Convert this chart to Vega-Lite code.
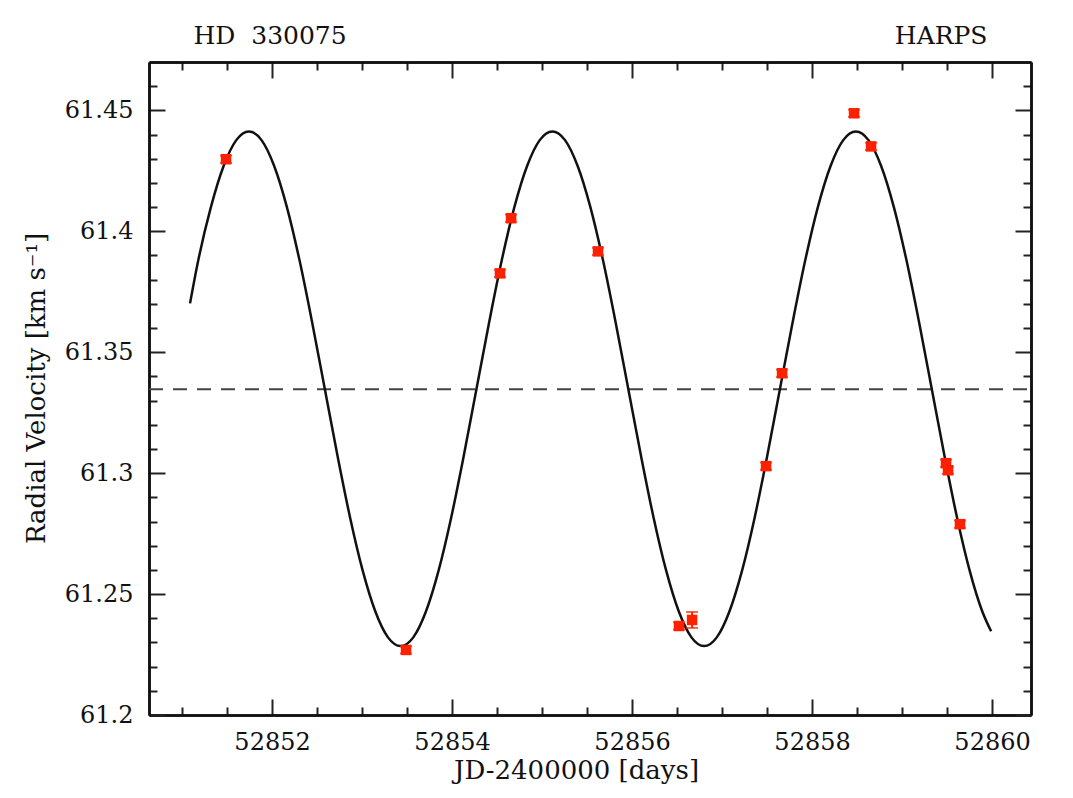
{
  "$schema": "https://vega.github.io/schema/vega-lite/v6.json",
  "width": 882,
  "height": 653,
  "autosize": {"type": "none"},
  "padding": {"left": 149, "top": 62, "right": 42, "bottom": 83},
  "background": "white",
  "config": {
    "view": {"stroke": null},
    "axis": {
      "grid": false,
      "domainColor": "#111",
      "domainWidth": 2.5,
      "tickColor": "#222",
      "tickWidth": 2,
      "labelFont": "DejaVu Serif",
      "labelFontSize": 24,
      "labelColor": "#111",
      "titleFont": "DejaVu Serif",
      "titleFontSize": 26,
      "titleFontWeight": "normal",
      "titleColor": "#111",
      "labelFlush": false,
      "labelOverlap": false
    }
  },
  "datasets": {
    "curve": [
      {"t": 52851.089, "v": 61.3702},
      {"t": 52851.181, "v": 61.3881},
      {"t": 52851.3215, "v": 61.4101},
      {"t": 52851.462, "v": 61.4270},
      {"t": 52851.6025, "v": 61.4377},
      {"t": 52851.743, "v": 61.4413},
      {"t": 52851.8835, "v": 61.4377},
      {"t": 52852.024, "v": 61.4270},
      {"t": 52852.1645, "v": 61.4101},
      {"t": 52852.305, "v": 61.3881},
      {"t": 52852.4455, "v": 61.3624},
      {"t": 52852.586, "v": 61.3349},
      {"t": 52852.7265, "v": 61.3074},
      {"t": 52852.867, "v": 61.2817},
      {"t": 52853.0075, "v": 61.2597},
      {"t": 52853.148, "v": 61.2428},
      {"t": 52853.2885, "v": 61.2321},
      {"t": 52853.429, "v": 61.2285},
      {"t": 52853.5695, "v": 61.2321},
      {"t": 52853.71, "v": 61.2428},
      {"t": 52853.8505, "v": 61.2597},
      {"t": 52853.991, "v": 61.2817},
      {"t": 52854.1315, "v": 61.3074},
      {"t": 52854.272, "v": 61.3349},
      {"t": 52854.4125, "v": 61.3624},
      {"t": 52854.553, "v": 61.3881},
      {"t": 52854.6935, "v": 61.4101},
      {"t": 52854.834, "v": 61.4270},
      {"t": 52854.9745, "v": 61.4377},
      {"t": 52855.115, "v": 61.4413},
      {"t": 52855.2555, "v": 61.4377},
      {"t": 52855.396, "v": 61.4270},
      {"t": 52855.5365, "v": 61.4101},
      {"t": 52855.677, "v": 61.3881},
      {"t": 52855.8175, "v": 61.3624},
      {"t": 52855.958, "v": 61.3349},
      {"t": 52856.0985, "v": 61.3074},
      {"t": 52856.239, "v": 61.2817},
      {"t": 52856.3795, "v": 61.2597},
      {"t": 52856.52, "v": 61.2428},
      {"t": 52856.6605, "v": 61.2321},
      {"t": 52856.801, "v": 61.2285},
      {"t": 52856.9415, "v": 61.2321},
      {"t": 52857.082, "v": 61.2428},
      {"t": 52857.2225, "v": 61.2597},
      {"t": 52857.363, "v": 61.2817},
      {"t": 52857.5035, "v": 61.3074},
      {"t": 52857.644, "v": 61.3349},
      {"t": 52857.7845, "v": 61.3624},
      {"t": 52857.925, "v": 61.3881},
      {"t": 52858.0655, "v": 61.4101},
      {"t": 52858.206, "v": 61.4270},
      {"t": 52858.3465, "v": 61.4377},
      {"t": 52858.487, "v": 61.4413},
      {"t": 52858.6275, "v": 61.4377},
      {"t": 52858.768, "v": 61.4270},
      {"t": 52858.9085, "v": 61.4101},
      {"t": 52859.049, "v": 61.3881},
      {"t": 52859.1895, "v": 61.3624},
      {"t": 52859.33, "v": 61.3349},
      {"t": 52859.4705, "v": 61.3074},
      {"t": 52859.611, "v": 61.2817},
      {"t": 52859.7515, "v": 61.2597},
      {"t": 52859.892, "v": 61.2428},
      {"t": 52859.99, "v": 61.2346}
    ],
    "obs": [
      {"t": 52851.489, "rv": 61.4298, "err": 0.0015},
      {"t": 52853.489, "rv": 61.2269, "err": 0.0015},
      {"t": 52854.533, "rv": 61.3826, "err": 0.0015},
      {"t": 52854.656, "rv": 61.4054, "err": 0.0015},
      {"t": 52855.622, "rv": 61.3917, "err": 0.0015},
      {"t": 52856.522, "rv": 61.2368, "err": 0.0015},
      {"t": 52856.667, "rv": 61.2393, "err": 0.0033},
      {"t": 52857.489, "rv": 61.3029, "err": 0.0015},
      {"t": 52857.667, "rv": 61.3413, "err": 0.0015},
      {"t": 52858.467, "rv": 61.4488, "err": 0.0015},
      {"t": 52858.656, "rv": 61.4351, "err": 0.0015},
      {"t": 52859.489, "rv": 61.3041, "err": 0.0015},
      {"t": 52859.511, "rv": 61.3012, "err": 0.0015},
      {"t": 52859.644, "rv": 61.2789, "err": 0.0015}
    ],
    "mean": [
      {"t": 52850.633, "v": 61.3347},
      {"t": 52860.433, "v": 61.3347}
    ]
  },
  "resolve": {"axis": {"x": "independent", "y": "independent"}},
  "layer": [
    {
      "data": {"name": "mean"},
      "mark": {"type": "line", "color": "#444", "strokeWidth": 2, "strokeDash": [14, 10]},
      "encoding": {
        "x": {"field": "t", "type": "quantitative",
          "scale": {"domain": [52850.633, 52860.433], "nice": false, "zero": false},
          "axis": {"orient": "top", "values": [52851, 52851.5, 52852.5, 52853, 52853.5, 52854.5, 52855, 52855.5, 52856.5, 52857, 52857.5, 52858.5, 52859, 52859.5],
            "tickSize": -8, "labels": false, "title": "HD\u00a0 330075",
            "titleX": 44, "titleY": -19, "titleAlign": "left", "titleBaseline": "alphabetic", "titleFontSize": 25}},
        "y": {"field": "v", "type": "quantitative",
          "scale": {"domain": [61.2, 61.47], "nice": false, "zero": false},
          "axis": {"orient": "right", "values": [61.21, 61.22, 61.23, 61.24, 61.26, 61.27, 61.28, 61.29, 61.31, 61.32, 61.33, 61.34, 61.36, 61.37, 61.38, 61.39, 61.41, 61.42, 61.43, 61.44, 61.46],
            "tickSize": -8, "labels": false, "title": null}}
      }
    },
    {
      "data": {"name": "curve"},
      "mark": {"type": "line", "color": "#111", "strokeWidth": 2.5, "interpolate": "monotone"},
      "encoding": {
        "x": {"field": "t", "type": "quantitative",
          "scale": {"domain": [52850.633, 52860.433], "nice": false, "zero": false},
          "axis": {"orient": "bottom", "values": [52852, 52854, 52856, 52858, 52860], "format": "d",
            "tickSize": -16, "labelPadding": 31, "title": "JD-2400000 [days]",
            "titleX": 427, "titleY": 63, "titleAlign": "center", "titleBaseline": "alphabetic"}},
        "y": {"field": "v", "type": "quantitative",
          "scale": {"domain": [61.2, 61.47], "nice": false, "zero": false},
          "axis": {"orient": "left", "values": [61.2, 61.25, 61.3, 61.35, 61.4, 61.45], "format": "~f",
            "tickSize": -16, "labelPadding": 32, "title": "Radial Velocity [km s\u207b\u00b9]",
            "titleX": -105, "titleY": 326, "titleAngle": -90, "titleAlign": "center", "titleBaseline": "alphabetic"}}
      }
    },
    {
      "data": {"name": "obs"},
      "mark": {"type": "errorbar", "color": "#ff2000", "thickness": 2, "ticks": {"size": 12, "color": "#ff2000", "thickness": 2}},
      "encoding": {
        "x": {"field": "t", "type": "quantitative",
          "scale": {"domain": [52850.633, 52860.433], "nice": false, "zero": false},
          "axis": {"orient": "bottom", "values": [52851, 52851.5, 52852.5, 52853, 52853.5, 52854.5, 52855, 52855.5, 52856.5, 52857, 52857.5, 52858.5, 52859, 52859.5],
            "tickSize": -8, "labels": false, "title": null}},
        "y": {"field": "rv", "type": "quantitative",
          "scale": {"domain": [61.2, 61.47], "nice": false, "zero": false},
          "axis": {"orient": "left", "values": [61.21, 61.22, 61.23, 61.24, 61.26, 61.27, 61.28, 61.29, 61.31, 61.32, 61.33, 61.34, 61.36, 61.37, 61.38, 61.39, 61.41, 61.42, 61.43, 61.44, 61.46],
            "tickSize": -8, "labels": false, "title": null}},
        "yError": {"field": "err"}
      }
    },
    {
      "data": {"name": "obs"},
      "mark": {"type": "square", "color": "#ff2000", "opacity": 1, "size": 110},
      "encoding": {
        "x": {"field": "t", "type": "quantitative",
          "scale": {"domain": [52850.633, 52860.433], "nice": false, "zero": false},
          "axis": {"orient": "top", "values": [52852, 52854, 52856, 52858, 52860],
            "tickSize": -16, "labels": false, "title": "HARPS",
            "titleX": 838, "titleY": -19, "titleAlign": "right", "titleBaseline": "alphabetic", "titleFontSize": 25}},
        "y": {"field": "rv", "type": "quantitative",
          "scale": {"domain": [61.2, 61.47], "nice": false, "zero": false},
          "axis": {"orient": "right", "values": [61.2, 61.25, 61.3, 61.35, 61.4, 61.45],
            "tickSize": -16, "labels": false, "title": null}}
      }
    }
  ]
}
